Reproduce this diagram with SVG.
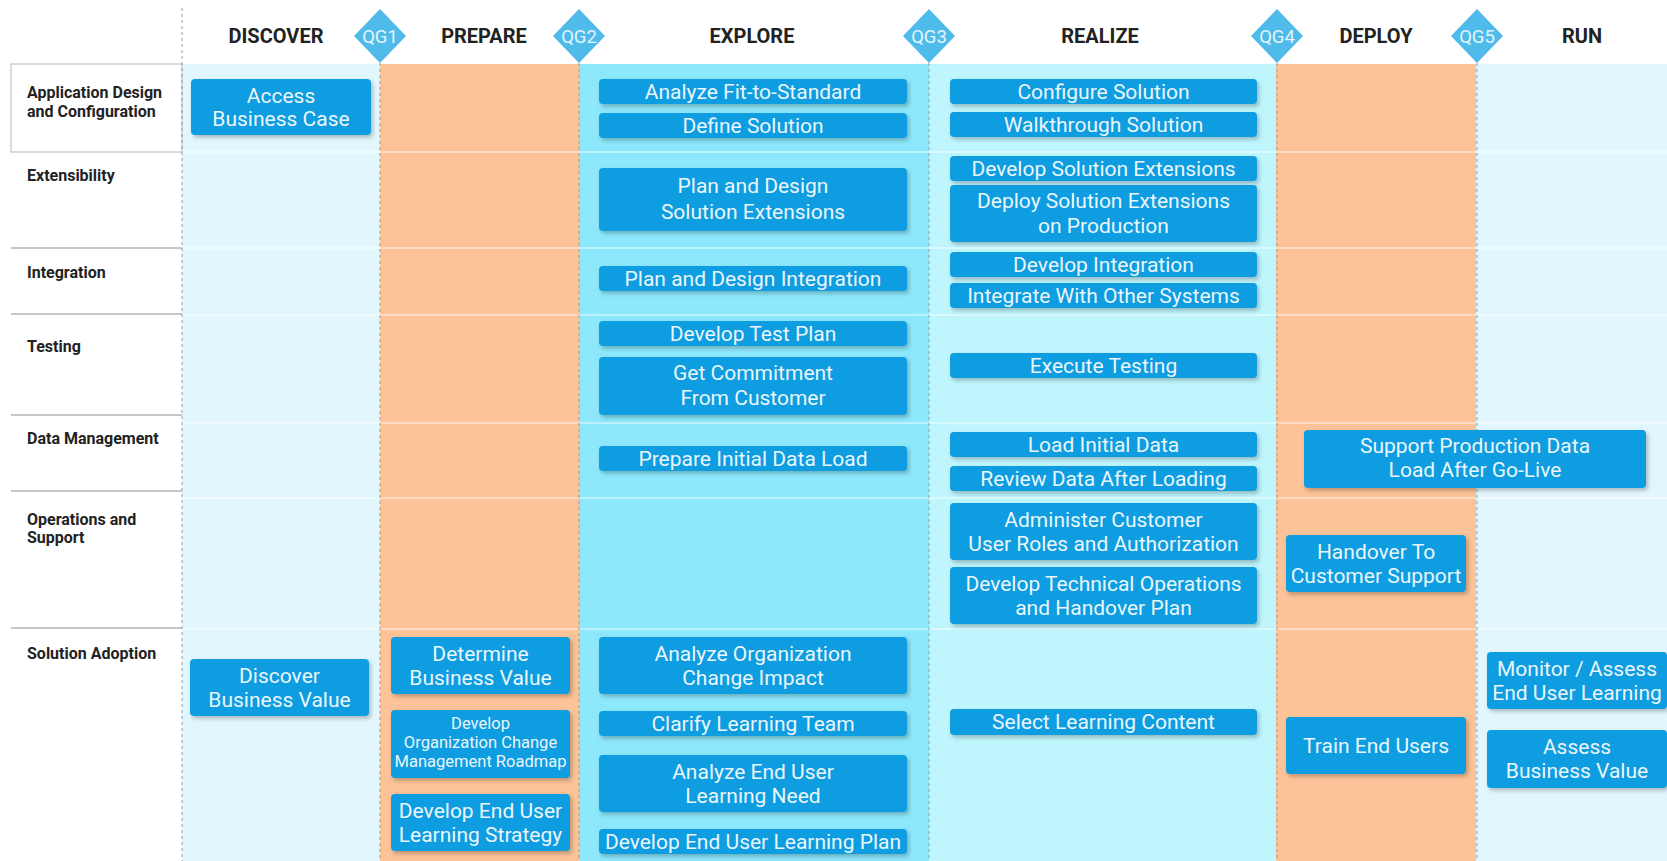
<svg xmlns="http://www.w3.org/2000/svg" width="1667" height="861" viewBox="0 0 1667 861">
<defs>
<style>
.hdr{font-family:Roboto,"Liberation Sans",sans-serif;font-weight:bold;font-size:20px;fill:#222;text-anchor:middle}
.lbl{font-family:Roboto,"Liberation Sans",sans-serif;font-weight:bold;font-size:16px;fill:#222}
.qg{font-family:Roboto,"Liberation Sans",sans-serif;font-size:18.5px;fill:#e2f5fc;text-anchor:middle}
.dia{fill:#4fbbea}
.box{fill:#0a9de0;filter:url(#sh)}
.bt{font-family:Roboto,"Liberation Sans",sans-serif;font-size:21px;fill:#eaf6fc;text-anchor:middle}
.bs{font-family:Roboto,"Liberation Sans",sans-serif;font-size:16.5px;fill:#eaf6fc;text-anchor:middle}
.dash{stroke:#9a9a9a;stroke-width:1;stroke-dasharray:3 3;fill:none}
.rowl{stroke:#b5b5b5;stroke-width:1.5}
.rowc{stroke:#ffffff;stroke-opacity:0.55;stroke-width:1.5}
</style>
<filter id="sh" x="-10%" y="-20%" width="125%" height="150%">
<feDropShadow dx="2" dy="2.5" stdDeviation="2" flood-color="#000" flood-opacity="0.25"/>
</filter>
</defs>
<rect x="0" y="0" width="1667" height="861" fill="#ffffff"/>
<g id="columns">
<rect x="182" y="64" width="198" height="797" fill="#e2f7fd"/>
<rect x="380" y="64" width="199" height="797" fill="#fbc397"/>
<rect x="579" y="64" width="350" height="797" fill="#8de8fb"/>
<rect x="929" y="64" width="347" height="797" fill="#bff6fd"/>
<rect x="1276" y="64" width="200" height="797" fill="#fbc397"/>
<rect x="1476" y="64" width="191" height="797" fill="#e2f7fd"/>
</g>
<g id="row-lines">
<line class="rowc" x1="182" y1="152" x2="1667" y2="152"/>
<line class="rowc" x1="182" y1="248" x2="1667" y2="248"/>
<line class="rowc" x1="182" y1="315" x2="1667" y2="315"/>
<line class="rowc" x1="182" y1="423" x2="1667" y2="423"/>
<line class="rowc" x1="182" y1="498" x2="1667" y2="498"/>
<line class="rowc" x1="182" y1="629" x2="1667" y2="629"/>
<rect x="11" y="64" width="171" height="88" fill="#ffffff" stroke="#c4c4c4" stroke-width="1.2"/>
<line class="rowl" x1="11" y1="248" x2="182" y2="248"/>
<line class="rowl" x1="11" y1="314" x2="182" y2="314"/>
<line class="rowl" x1="11" y1="415" x2="182" y2="415"/>
<line class="rowl" x1="11" y1="491" x2="182" y2="491"/>
<line class="rowl" x1="11" y1="628" x2="182" y2="628"/>
</g>
<g id="gate-lines">
<line class="dash" x1="182" y1="8" x2="182" y2="861"/>
<line class="dash" x1="380" y1="63" x2="380" y2="861"/>
<line class="dash" x1="579" y1="63" x2="579" y2="861"/>
<line class="dash" x1="929" y1="63" x2="929" y2="861"/>
<line class="dash" x1="1277" y1="63" x2="1277" y2="861"/>
<line class="dash" x1="1477" y1="63" x2="1477" y2="861"/>
</g>
<g id="headers">
<text class="hdr" x="276" y="43">DISCOVER</text>
<text class="hdr" x="484" y="43">PREPARE</text>
<text class="hdr" x="752" y="43">EXPLORE</text>
<text class="hdr" x="1100" y="43">REALIZE</text>
<text class="hdr" x="1376" y="43">DEPLOY</text>
<text class="hdr" x="1582" y="43">RUN</text>
</g>
<g id="qg1"><polygon class="dia" points="380,9 406,36 380,63 354,36"/><text class="qg" x="380" y="42.5">QG1</text></g>
<g id="qg2"><polygon class="dia" points="579,9 605,36 579,63 553,36"/><text class="qg" x="579" y="42.5">QG2</text></g>
<g id="qg3"><polygon class="dia" points="929,9 955,36 929,63 903,36"/><text class="qg" x="929" y="42.5">QG3</text></g>
<g id="qg4"><polygon class="dia" points="1277,9 1303,36 1277,63 1251,36"/><text class="qg" x="1277" y="42.5">QG4</text></g>
<g id="qg5"><polygon class="dia" points="1477,9 1503,36 1477,63 1451,36"/><text class="qg" x="1477" y="42.5">QG5</text></g>
<g id="row-labels">
<text class="lbl" x="27" y="98">Application Design</text>
<text class="lbl" x="27" y="117">and Configuration</text>
<text class="lbl" x="27" y="181">Extensibility</text>
<text class="lbl" x="27" y="278">Integration</text>
<text class="lbl" x="27" y="352">Testing</text>
<text class="lbl" x="27" y="444">Data Management</text>
<text class="lbl" x="27" y="525">Operations and</text>
<text class="lbl" x="27" y="543">Support</text>
<text class="lbl" x="27" y="659">Solution Adoption</text>
</g>
<g id="connectors"/>
<g id="n-access-business-case"><rect class="box" x="191" y="79" width="180" height="56" rx="4"/><text class="bt" x="281" y="103">Access</text><text class="bt" x="281" y="126">Business Case</text></g>
<g id="n-discover-business-value"><rect class="box" x="190" y="659" width="179" height="57" rx="4"/><text class="bt" x="279.5" y="683">Discover</text><text class="bt" x="279.5" y="707">Business Value</text></g>
<g id="n-determine-business-value"><rect class="box" x="391" y="637" width="179" height="57" rx="4"/><text class="bt" x="480.5" y="661">Determine</text><text class="bt" x="480.5" y="685">Business Value</text></g>
<g id="n-develop-ocm-roadmap"><rect class="box" x="391" y="710" width="179" height="68" rx="4"/><text class="bs" x="480.5" y="728.5">Develop</text><text class="bs" x="480.5" y="747.5">Organization Change</text><text class="bs" x="480.5" y="766.5">Management Roadmap</text></g>
<g id="n-develop-eul-strategy"><rect class="box" x="391" y="794" width="179" height="57" rx="4"/><text class="bt" x="480.5" y="818">Develop End User</text><text class="bt" x="480.5" y="842">Learning Strategy</text></g>
<g id="n-analyze-fit"><rect class="box" x="599" y="79" width="308" height="25" rx="4"/><text class="bt" x="753" y="98.5">Analyze Fit-to-Standard</text></g>
<g id="n-define-solution"><rect class="box" x="599" y="113" width="308" height="25" rx="4"/><text class="bt" x="753" y="132.5">Define Solution</text></g>
<g id="n-plan-design-ext"><rect class="box" x="599" y="168" width="308" height="63" rx="4"/><text class="bt" x="753" y="193">Plan and Design</text><text class="bt" x="753" y="219">Solution Extensions</text></g>
<g id="n-plan-design-int"><rect class="box" x="599" y="266" width="308" height="25" rx="4"/><text class="bt" x="753" y="285.5">Plan and Design Integration</text></g>
<g id="n-develop-test-plan"><rect class="box" x="599" y="321" width="308" height="25" rx="4"/><text class="bt" x="753" y="340.5">Develop Test Plan</text></g>
<g id="n-get-commitment"><rect class="box" x="599" y="357" width="308" height="58" rx="4"/><text class="bt" x="753" y="380">Get Commitment</text><text class="bt" x="753" y="405">From Customer</text></g>
<g id="n-prepare-initial-data"><rect class="box" x="599" y="446" width="308" height="25" rx="4"/><text class="bt" x="753" y="465.5">Prepare Initial Data Load</text></g>
<g id="n-analyze-org-change"><rect class="box" x="599" y="637" width="308" height="57" rx="4"/><text class="bt" x="753" y="661">Analyze Organization</text><text class="bt" x="753" y="685">Change Impact</text></g>
<g id="n-clarify-learning-team"><rect class="box" x="599" y="711" width="308" height="25" rx="4"/><text class="bt" x="753" y="730.5">Clarify Learning Team</text></g>
<g id="n-analyze-eul-need"><rect class="box" x="599" y="755" width="308" height="57" rx="4"/><text class="bt" x="753" y="779">Analyze End User</text><text class="bt" x="753" y="803">Learning Need</text></g>
<g id="n-develop-eul-plan"><rect class="box" x="599" y="829" width="308" height="25" rx="4"/><text class="bt" x="753" y="848.5">Develop End User Learning Plan</text></g>
<g id="n-configure-solution"><rect class="box" x="950" y="79" width="307" height="25" rx="4"/><text class="bt" x="1103.5" y="98.5">Configure Solution</text></g>
<g id="n-walkthrough-solution"><rect class="box" x="950" y="112" width="307" height="25" rx="4"/><text class="bt" x="1103.5" y="131.5">Walkthrough Solution</text></g>
<g id="n-develop-sol-ext"><rect class="box" x="950" y="156" width="307" height="25" rx="4"/><text class="bt" x="1103.5" y="175.5">Develop Solution Extensions</text></g>
<g id="n-deploy-sol-ext"><rect class="box" x="950" y="185" width="307" height="57" rx="4"/><text class="bt" x="1103.5" y="208">Deploy Solution Extensions</text><text class="bt" x="1103.5" y="233">on Production</text></g>
<g id="n-develop-integration"><rect class="box" x="950" y="252" width="307" height="25" rx="4"/><text class="bt" x="1103.5" y="271.5">Develop Integration</text></g>
<g id="n-integrate-systems"><rect class="box" x="950" y="283" width="307" height="25" rx="4"/><text class="bt" x="1103.5" y="302.5">Integrate With Other Systems</text></g>
<g id="n-execute-testing"><rect class="box" x="950" y="353" width="307" height="25" rx="4"/><text class="bt" x="1103.5" y="372.5">Execute Testing</text></g>
<g id="n-load-initial-data"><rect class="box" x="950" y="432" width="307" height="25" rx="4"/><text class="bt" x="1103.5" y="451.5">Load Initial Data</text></g>
<g id="n-review-data"><rect class="box" x="950" y="466" width="307" height="25" rx="4"/><text class="bt" x="1103.5" y="485.5">Review Data After Loading</text></g>
<g id="n-administer-roles"><rect class="box" x="950" y="503" width="307" height="57" rx="4"/><text class="bt" x="1103.5" y="527">Administer Customer</text><text class="bt" x="1103.5" y="551">User Roles and Authorization</text></g>
<g id="n-develop-tech-ops"><rect class="box" x="950" y="567" width="307" height="57" rx="4"/><text class="bt" x="1103.5" y="591">Develop Technical Operations</text><text class="bt" x="1103.5" y="615">and Handover Plan</text></g>
<g id="n-select-learning-content"><rect class="box" x="950" y="709" width="307" height="26" rx="4"/><text class="bt" x="1103.5" y="729">Select Learning Content</text></g>
<g id="n-support-prod-data"><rect class="box" x="1304" y="430" width="342" height="58" rx="4"/><text class="bt" x="1475" y="453">Support Production Data</text><text class="bt" x="1475" y="477">Load After Go-Live</text></g>
<g id="n-handover-support"><rect class="box" x="1286" y="535" width="180" height="57" rx="4"/><text class="bt" x="1376" y="559">Handover To</text><text class="bt" x="1376" y="583">Customer Support</text></g>
<g id="n-train-end-users"><rect class="box" x="1286" y="717" width="180" height="57" rx="4"/><text class="bt" x="1376" y="752.5">Train End Users</text></g>
<g id="n-monitor-assess"><rect class="box" x="1487" y="652" width="180" height="57" rx="4"/><text class="bt" x="1577" y="676">Monitor / Assess</text><text class="bt" x="1577" y="700">End User Learning</text></g>
<g id="n-assess-business-value"><rect class="box" x="1487" y="730" width="180" height="58" rx="4"/><text class="bt" x="1577" y="754">Assess</text><text class="bt" x="1577" y="778">Business Value</text></g>
</svg>
